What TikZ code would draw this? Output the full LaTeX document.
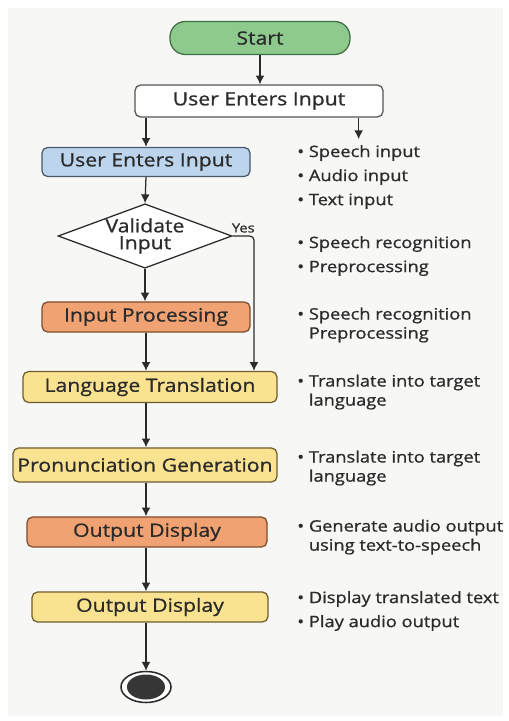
\documentclass[tikz,border=0pt]{standalone}
\usepackage{fontspec}
\setmainfont{Open Sans}[FakeStretch=1.16, FakeBold=0.9]
\usepackage{xcolor}
\usetikzlibrary{arrows.meta,positioning,shapes.geometric}

\definecolor{ink}{HTML}{2B2B2B}
\definecolor{pagebg}{HTML}{F7F7F6}
\definecolor{startfill}{HTML}{8EC98E}
\definecolor{startline}{HTML}{3F6E3F}
\definecolor{bluefill}{HTML}{BDD5EC}
\definecolor{blueline}{HTML}{4A5868}
\definecolor{orangefill}{HTML}{F0A272}
\definecolor{orangeline}{HTML}{7E4E2E}
\definecolor{yellowfill}{HTML}{F9E290}
\definecolor{yellowline}{HTML}{6E5E2E}

\newcommand{\notebullet}{\textbullet~}
\newcommand{\noteindent}{\phantom{\textbullet~}}

\begin{document}
\begin{tikzpicture}[
    x=0.025cm, y=-0.025cm,
    font=\fontsize{13}{14}\selectfont, text=ink,
    box/.style={draw, rounded corners=4pt, line width=0.9pt, inner sep=0pt, align=center, minimum height=0.75cm},
    startbox/.style={box, fill=startfill, draw=startline, rounded corners=11pt},
    plainbox/.style={box, fill=white, draw=ink!80},
    bluebox/.style={box, fill=bluefill, draw=blueline},
    orangebox/.style={box, fill=orangefill, draw=orangeline},
    yellowbox/.style={box, fill=yellowfill, draw=yellowline},
    decision/.style={draw=ink, diamond, aspect=2.7, line width=0.9pt, fill=white, inner sep=0pt, align=center, minimum width=4.25cm, minimum height=1.575cm},
    note/.style={anchor=west, align=left, inner sep=0pt, font=\fontsize{11.2}{13.6}\selectfont},
    arrow/.style={-{Latex[length=2.2mm, width=2.2mm]}, line width=0.9pt, draw=ink}
  ]

  % page
  \useasboundingbox (0,0) rectangle (508,721);
  \fill[pagebg] (8,8) rectangle (503,716);

  % Main spine
  \node[startbox, minimum width=4.5cm, minimum height=0.825cm] (start) at (260,38) {Start};
  \node[plainbox, minimum width=6.2cm, minimum height=0.8cm] (input) at (259,101) {User Enters Input};
  \node[bluebox, minimum width=5.2cm, minimum height=0.725cm] (enter) at (146,162) {User Enters Input};
  \node[decision] (valid) at (145,236) {Validate\\[-2pt]Input};
  \node[orangebox, minimum width=5.2cm] (proc) at (146,317) {Input Processing};
  \node[yellowbox, minimum width=6.35cm, minimum height=0.775cm] (trans) at (150,387) {Language Translation};
  \node[yellowbox, minimum width=6.6cm, minimum height=0.85cm] (pron) at (145,465) {Pronunciation Generation};
  \node[orangebox, minimum width=6.0cm] (show) at (147,532) {Output Display};
  \node[yellowbox, minimum width=5.9cm] (play) at (150,607) {Output Display};

  % End state
  \node[draw=ink, ellipse, line width=1.1pt, fill=white, minimum width=1.25cm, minimum height=0.775cm] (stop) at (146,687) {};
  \node[ellipse, fill=ink!95, minimum width=0.95cm, minimum height=0.625cm] (stopdot) at (stop) {};

  % Notes on the right
  \node[note] (n1) at (297,177) {\notebullet Speech input\\[3.5pt]\notebullet Audio input\\[3.5pt]\notebullet Text input};
  \node[note] (n2) at (297,256) {\notebullet Speech recognition\\[3.5pt]\notebullet Preprocessing};
  \node[note] (n3) at (297,325) {\notebullet Speech recognition\\\noteindent Preprocessing};
  \node[note] (n4) at (297,392) {\notebullet Translate into target\\\noteindent language};
  \node[note] (n5) at (297,468) {\notebullet Translate into target\\\noteindent language};
  \node[note] (n6) at (297,537) {\notebullet Generate audio output\\\noteindent using text-to-speech};
  \node[note] (n7) at (297,611) {\notebullet Display translated text\\[3.5pt]\notebullet Play audio output};

  \coordinate (ybend) at (254,0);

  % Connectors
  \draw[arrow] (start.south) -- (start.south |- input.north);
  \draw[arrow] (input.south -| enter.north) -- (enter.north);
  \draw[arrow] (input.south -| n1.north) -- ([yshift=4pt]n1.north);
  \draw[arrow] (enter.south) -- (valid.north);
  \draw[arrow] (valid.south) -- (valid.south |- proc.north);
  \draw[arrow, rounded corners=3pt] (valid.east) -| node[pos=0.25, above, inner sep=2pt, font=\fontsize{9}{10}\selectfont]{Yes} (trans.north -| ybend);
  \draw[arrow] (proc.south) -- (proc.south |- trans.north);
  \draw[arrow] (proc.south |- trans.south) -- (proc.south |- pron.north);
  \draw[arrow] (proc.south |- pron.south) -- (proc.south |- show.north);
  \draw[arrow] (proc.south |- show.south) -- (proc.south |- play.north);
  \draw[arrow] (play.south -| stop.north) -- (stop.north);

\end{tikzpicture}
\end{document}
